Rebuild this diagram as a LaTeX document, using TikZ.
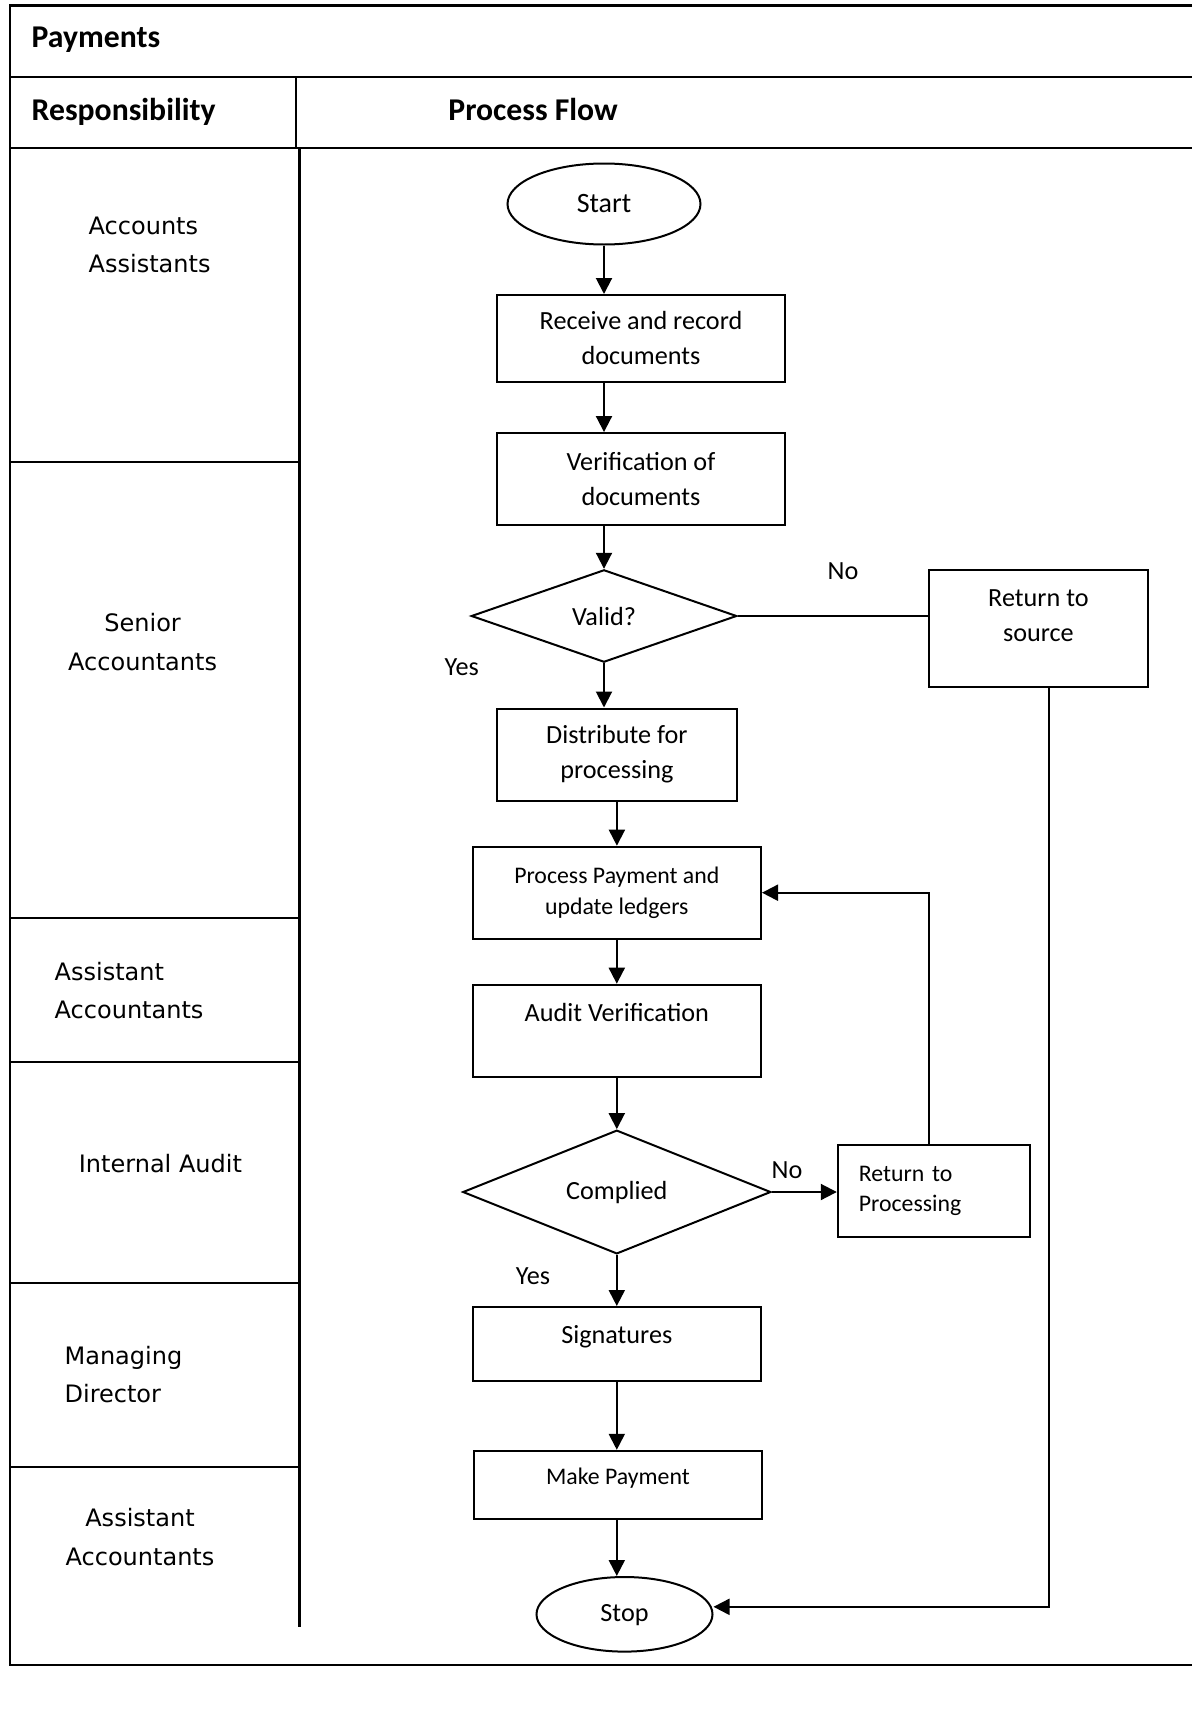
\documentclass[tikz,border=0pt]{standalone}
\usepackage{fontspec}
\setmainfont{Carlito}
\newfontfamily\lanefont{DejaVu Sans}
\usetikzlibrary{arrows.meta}
\usetikzlibrary{calc}
\usetikzlibrary{shapes.geometric}

\begin{document}
\begin{tikzpicture}[
        x=1pt, y=-1pt,
        line width=2pt,
        font=\fontsize{26.2}{35}\selectfont,
        flecha/.style={-{Triangle[length=16pt, width=16pt]}},
        caja/.style={draw, rectangle, inner sep=0pt, align=center},
        rombo/.style={draw, diamond, inner sep=0pt},
        extremo/.style={draw, ellipse, inner sep=0pt},
        chica/.style={font=\fontsize{23.8}{30.7}\selectfont},
        carril/.style={font=\lanefont\fontsize{24}{38.4}\selectfont, inner sep=0pt},
        titulo/.style={font=\bfseries\fontsize{31.7}{38}\selectfont, anchor=base west, inner sep=0pt},
        marco/.style={line width=2.2pt}
    ]
        \useasboundingbox (0,0) rectangle (1192,1719);

        % --- Marco de la tabla ---
        \draw[marco] (1192,5.5) -- (9.9,5.5) -- (9.9,1664.6) -- (1192,1664.6);
        \draw[marco] (9.9,77) -- (1192,77);
        \draw[marco] (9.9,148) -- (1192,148);
        \draw[marco] (296,77) -- (296,148);
        \draw[marco] (299.4,148) -- (299.4,1627.4);
        % Divisiones de los carriles
        \foreach \y in {461.7, 917.9, 1061.5, 1283, 1467.3}
            \draw (9.9,\y) -- (299.4,\y);

        % --- Encabezados ---
        \node[titulo] (pagos) at (30.7,47) {Payments};
        \node[titulo] (resp) at (30.7,120) {Responsibility};
        \node[titulo] (flujo) at (447.4,120) {Process Flow};

        % --- Responsables ---
        \node[carril, anchor=west, align=left] (carril1) at (87.7,245) {Accounts\\Assistants};
        \node[carril, align=center] (carril2) at (142.6,642) {Senior\\Accountants};
        \node[carril, anchor=west, align=left] (carril3) at (53.7,990.3) {Assistant\\Accountants};
        \node[carril, anchor=west] (carril4) at (77.9,1163.5) {Internal Audit};
        \node[carril, anchor=west, align=left] (carril5) at (63.6,1374.5) {Managing\\Director};
        \node[carril, align=center] (carril6) at (140,1537) {Assistant\\Accountants};

        % --- Pasos del proceso ---
        \node[extremo, minimum width=193pt, minimum height=81pt,
              font=\fontsize{28}{34}\selectfont] (inicio) at (604,204) {Start};
        \node[caja, minimum width=288.4pt, minimum height=86.6pt] (recibir) at (641,338.3) {Receive and record\\documents};
        \node[caja, minimum width=288.4pt, minimum height=92.3pt] (verificar) at (641,479.2) {Verification of\\documents};
        \node[rombo, minimum width=265.5pt, minimum height=92.4pt] (valido) at (604,616) {Valid?};
        \node[caja, minimum width=219.2pt, minimum height=116.5pt, text depth=25pt] (fuente) at (1038.4,628.3) {Return to\\source};
        \node[caja, minimum width=240.2pt, minimum height=92pt] (distribuir) at (616.9,754.5) {Distribute for\\processing};
        \node[caja, chica, minimum width=288.4pt, minimum height=92pt] (procesar) at (616.8,892.7) {Process Payment and\\update ledgers};
        \node[caja, minimum width=288.4pt, minimum height=92.2pt,
              text height=18pt, text depth=36pt] (auditar) at (616.8,1030.8) {Audit Verification};
        \node[rombo, minimum width=308pt, minimum height=115pt] (cumplio) at (616.8,1192) {Complied};
        \node[caja, chica, align=left, text width=150pt, inner xsep=21pt,
              minimum height=92pt] (devolver) at (933.8,1191) {Return to\\Processing};
        \node[caja, minimum width=288.4pt, minimum height=73.6pt,
              text height=18pt, text depth=19.2pt] (firmas) at (616.8,1343.8) {Signatures};
        \node[caja, chica, minimum width=288.3pt, minimum height=68pt,
              text height=17pt, text depth=17pt] (pagar) at (617.9,1484.8) {Make Payment};
        \node[extremo, minimum width=176pt, minimum height=74.6pt,
              text height=18pt, text depth=4pt] (fin) at (624.5,1614.3) {Stop};

        % --- Etiquetas de decision ---
        \node (no1) at (843,571) {No};
        \node (si1) at (461.7,667) {Yes};
        \node (no2) at (787,1170) {No};
        \node (si2) at (533,1276.5) {Yes};

        % --- Flechas ---
        \draw[flecha] (inicio.south) -- (inicio.south |- recibir.north);
        \draw[flecha] (inicio.south |- recibir.south) -- (inicio.south |- verificar.north);
        \draw[flecha] (inicio.south |- verificar.south) -- (valido.north);
        \draw[flecha] (valido.south) -- (valido.south |- distribuir.north);
        \draw (valido.east) -- (valido.east -| fuente.west);
        \draw[flecha] (distribuir.south) -- (distribuir.south |- procesar.north);
        \draw[flecha] (procesar.south) -- (auditar.north);
        \draw[flecha] (auditar.south) -- (cumplio.north);
        \draw[flecha] (cumplio.east) -- (cumplio.east -| devolver.west);
        \draw[flecha] ([xshift=-5pt]devolver.north) |- (procesar.east);
        \draw[flecha] (cumplio.south) -- (firmas.north);
        \draw[flecha] (firmas.south) -- (firmas.south |- pagar.north);
        \draw[flecha] (firmas.south |- pagar.south) -- (firmas.south |- fin.north);
        % Regreso a la fuente hasta el fin
        \coordinate (bajada) at ($(fuente.south)+(11,0)$);
        \draw[flecha] (bajada) |- ([yshift=7.5pt]fin.east);

    \end{tikzpicture}
\end{document}
